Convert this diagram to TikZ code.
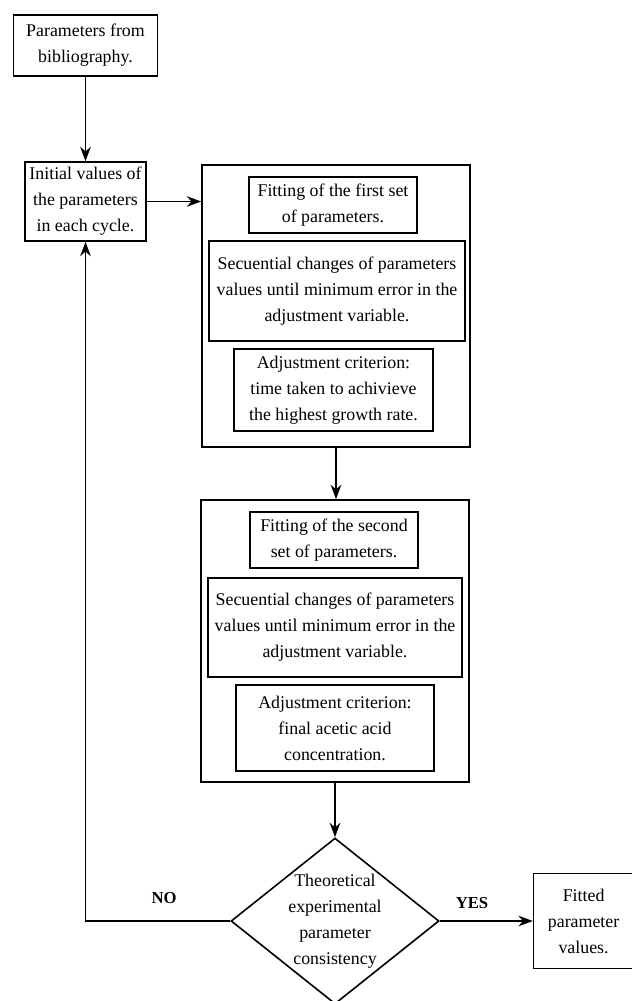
\documentclass[tikz,border=0pt]{standalone}
\usepackage{fontspec}
\setmainfont{Liberation Serif}
\usetikzlibrary{arrows.meta,positioning,shapes.geometric}
\tikzset{
  txt/.style={align=center, inner sep=0pt, font=\fontsize{13.4}{19.5}\selectfont},
  box/.style={txt, draw, line width=1.2pt},
  outer/.style={draw, line width=1.2pt, inner sep=0pt, minimum width=201pt, minimum height=211.5pt},
  decision/.style={draw, diamond, line width=1.2pt, inner sep=0pt, minimum width=156pt, minimum height=124.5pt},
  arr/.style={-{Stealth[length=3.8mm, width=2.8mm]}, line width=1.2pt},
  branch/.style={font=\bfseries\fontsize{12.5}{15}\selectfont}}

\begin{document}
\begin{tikzpicture}[x=0.75pt, y=-0.75pt]
  \useasboundingbox (0,0) rectangle (632,1001);
  % left column
  \node[box, minimum width=108pt, minimum height=45.75pt] (biblio) at (85.5,45.5) {Parameters from\\bibliography.};
  \node[box, minimum width=90.75pt, minimum height=59.25pt] (init) at (85.5,201.5) {Initial values of\\the parameters\\in each cycle.};
  % first fitting stage
  \node[outer] (stage1) at (336,306) {};
  \node[box, minimum width=126pt, minimum height=42pt] (fit1) at (333,205) {Fitting of the first set\\of parameters.};
  \node[box, minimum width=192pt, minimum height=75pt] (seq1) at (337,291) {Secuential changes of parameters\\values until minimum error in the\\adjustment variable.};
  \node[box, minimum width=149.25pt, minimum height=61.5pt] (crit1) at (333.5,390) {Adjustment criterion:\\time taken to achivieve\\the highest growth rate.};
  % second fitting stage
  \node[outer] (stage2) at (335,641) {};
  \node[box, minimum width=126pt, minimum height=42pt] (fit2) at (334,540) {Fitting of the second\\set of parameters.};
  \node[box, minimum width=190.5pt, minimum height=74.25pt] (seq2) at (335,627.5) {Secuential changes of parameters\\values until minimum error in the\\adjustment variable.};
  \node[box, minimum width=148.5pt, minimum height=64.5pt] (crit2) at (335,728) {Adjustment criterion:\\final acetic acid\\concentration.};
  % decision
  \node[decision] (dia) at (335,921) {};
  \node[txt] (diatext) at (dia.center) {Theoretical\\experimental\\parameter\\consistency};
  \node[box, minimum width=75pt, minimum height=71.25pt, right=69.75pt of dia] (fitted) {Fitted\\parameter\\values.};
  \node[branch] (no) at (164,898) {NO};
  \node[branch] (yes) at (472,903) {YES};

  \draw[arr] (biblio) -- (init);
  \draw[arr] (init.east) -- (init.east -| stage1.west);
  \draw[arr] (stage1.south) -- (stage1.south |- stage2.north);
  \draw[arr] (stage2.south) -- (dia.north);
  \draw[arr] (dia.east) -- (fitted.west);
  \draw[arr] (dia.west) -| (init.south);
\end{tikzpicture}
\end{document}
